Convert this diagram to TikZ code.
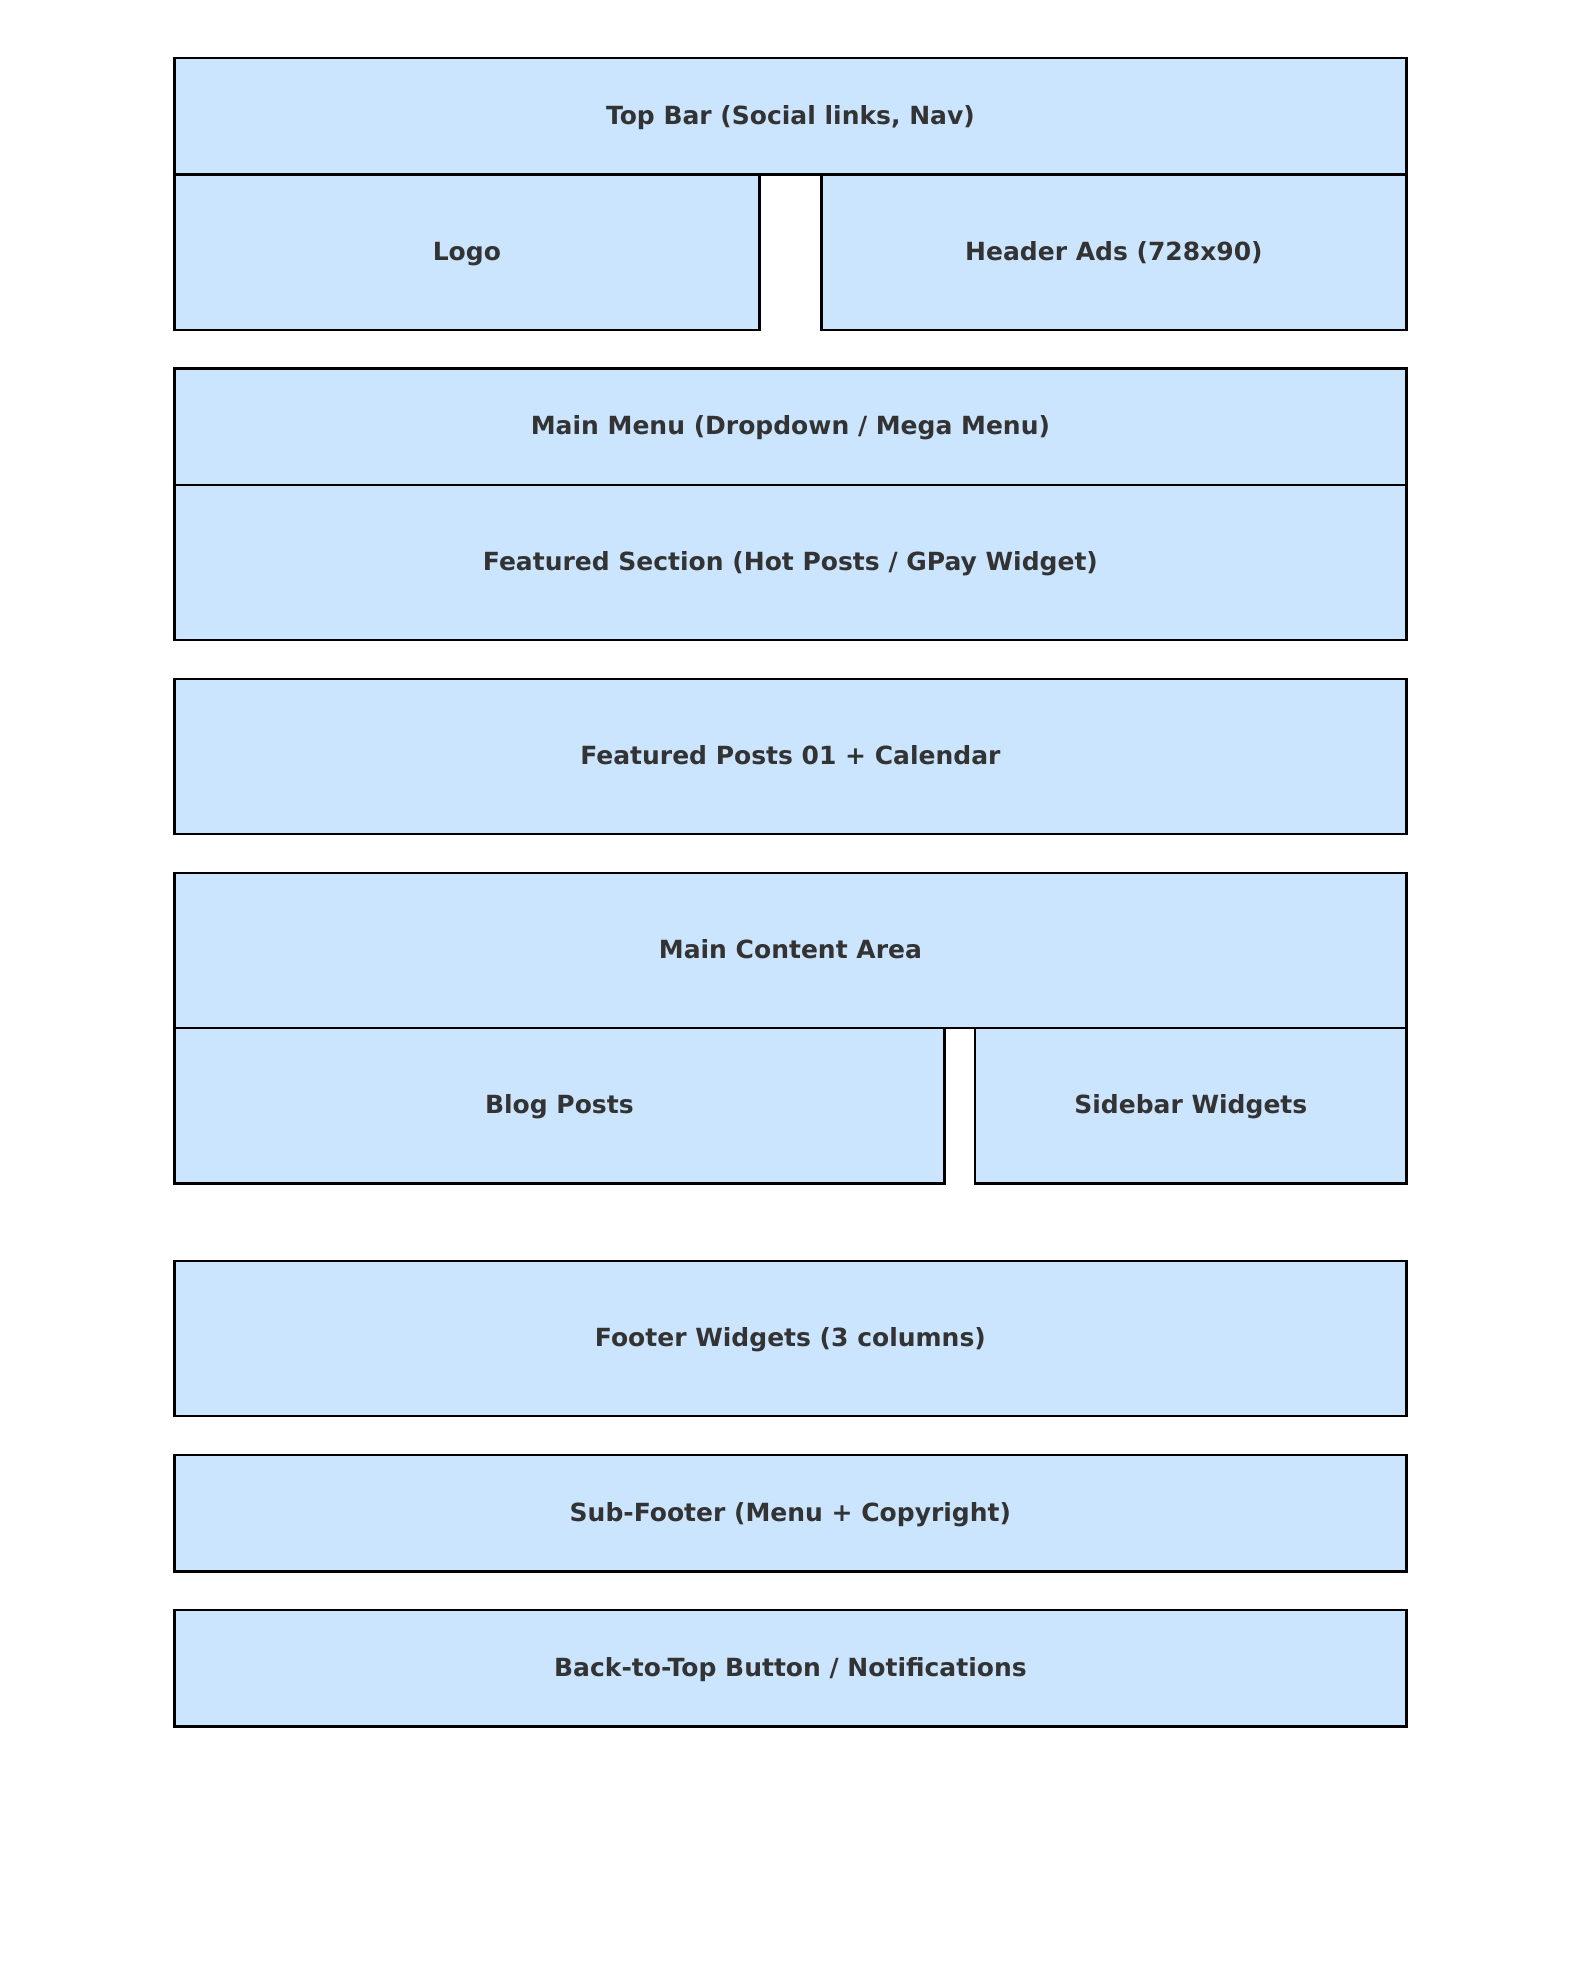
\documentclass[tikz,border=0pt]{standalone}
\usepackage{fontspec}
\setmainfont{DejaVu Sans}
\definecolor{boxfill}{HTML}{CCE5FF}
\definecolor{boxtext}{HTML}{333333}
\tikzset{
  blk/.style={draw=black, fill=boxfill, line width=1.25pt, inner sep=0pt, outer sep=0pt,
    text=boxtext, font=\fontsize{12.5}{15}\selectfont\bfseries, anchor=center,
    text height=0.9em, text depth=0.11em},
  full/.style={blk, minimum width=616.1pt},
  short/.style={minimum height=58.2pt},
  tall/.style={minimum height=77.6pt}
}
\begin{document}
\begin{tikzpicture}[x=0.5pt,y=-0.5pt]
\useasboundingbox (0,0) rectangle (1580,1979);
\node[blk, tall, minimum width=292.6pt] (logo) at (466.9,252.2) {Logo};
\node[blk, tall, minimum width=292.6pt] (ads) at (1113.9,252.2) {Header Ads (728x90)};
\node[full, short] (topbar) at (790.4,116.4) {Top Bar (Social links, Nav)};
\node[full, tall] (featured) at (790.4,562.6) {Featured Section (Hot Posts / GPay Widget)};
\node[full, short] (menu) at (790.4,426.8) {Main Menu (Dropdown / Mega Menu)};
\node[full, tall] (posts) at (790.4,756.6) {Featured Posts 01 + Calendar};
\node[blk, tall, minimum width=385.05pt] (blog) at (559.35,1105.8) {Blog Posts};
\node[blk, tall, minimum width=215.7pt] (sidebar) at (1190.8,1105.8) {Sidebar Widgets};
\node[full, tall] (content) at (790.4,950.6) {Main Content Area};
\node[full, tall] (footer) at (790.4,1338.6) {Footer Widgets (3 columns)};
\node[full, short] (subfooter) at (790.4,1513.2) {Sub-Footer (Menu + Copyright)};
\node[full, short] (backtop) at (790.4,1668.4) {Back-to-Top Button / Notifications};
\end{tikzpicture}
\end{document}
